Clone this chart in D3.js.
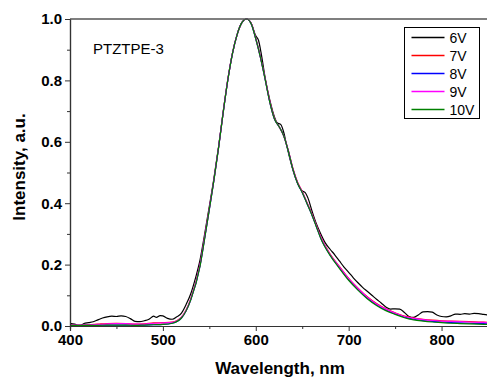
<!DOCTYPE html>
<html>
<head>
<meta charset="utf-8">
<script src="https://cdn.jsdelivr.net/npm/d3@7"></script>
<style>
  body { margin: 0; background: #fff; }
  svg { display: block; font-family: "Liberation Sans", Arial, sans-serif; }
</style>
</head>
<body>
<div id="chart"></div>
<script>
// smooth spectra share one wavelength grid
const wavelength = [400, 410, 420, 430, 440, 450, 460, 470, 480, 490, 500, 510, 520, 530, 540, 545, 550, 555, 560, 565, 570, 575, 580, 585, 590, 595, 600, 605, 610, 615, 620, 625, 630, 635, 640, 645, 650, 655, 660, 665, 670, 680, 690, 700, 710, 720, 730, 740, 750, 760, 770, 780, 790, 800, 810, 820, 830, 840, 850];
const v7  = [0.004, 0.003, 0.004, 0.006, 0.008, 0.009, 0.008, 0.006, 0.007, 0.01, 0.011, 0.013, 0.029, 0.088, 0.2, 0.29, 0.383, 0.478, 0.583, 0.698, 0.804, 0.89, 0.95, 0.988, 1.0, 0.986, 0.937, 0.877, 0.807, 0.733, 0.677, 0.65, 0.62, 0.572, 0.513, 0.468, 0.438, 0.403, 0.368, 0.329, 0.29, 0.234, 0.194, 0.155, 0.123, 0.095, 0.073, 0.056, 0.043, 0.032, 0.026, 0.022, 0.019, 0.017, 0.016, 0.015, 0.014, 0.013, 0.012];
const v8  = [0.002, 0.002, 0.002, 0.003, 0.003, 0.003, 0.003, 0.002, 0.003, 0.004, 0.005, 0.009, 0.026, 0.085, 0.196, 0.286, 0.38, 0.476, 0.582, 0.697, 0.803, 0.889, 0.95, 0.988, 1.0, 0.985, 0.935, 0.875, 0.805, 0.73, 0.675, 0.65, 0.62, 0.57, 0.51, 0.465, 0.435, 0.4, 0.365, 0.326, 0.286, 0.231, 0.19, 0.151, 0.119, 0.091, 0.069, 0.052, 0.04, 0.029, 0.022, 0.018, 0.015, 0.013, 0.011, 0.01, 0.009, 0.008, 0.007];
const v9  = [0.003, 0.003, 0.003, 0.005, 0.007, 0.008, 0.008, 0.006, 0.006, 0.009, 0.01, 0.012, 0.028, 0.087, 0.199, 0.289, 0.382, 0.477, 0.583, 0.698, 0.804, 0.89, 0.95, 0.988, 1.0, 0.986, 0.936, 0.876, 0.806, 0.732, 0.676, 0.65, 0.62, 0.571, 0.512, 0.467, 0.437, 0.402, 0.367, 0.328, 0.289, 0.233, 0.193, 0.154, 0.122, 0.094, 0.072, 0.055, 0.042, 0.031, 0.025, 0.021, 0.018, 0.016, 0.015, 0.014, 0.013, 0.012, 0.011];
const v10 = [0.002, 0.002, 0.002, 0.002, 0.003, 0.003, 0.003, 0.002, 0.003, 0.004, 0.005, 0.009, 0.026, 0.085, 0.195, 0.285, 0.38, 0.476, 0.582, 0.697, 0.803, 0.889, 0.95, 0.988, 1.0, 0.985, 0.935, 0.875, 0.805, 0.73, 0.675, 0.65, 0.62, 0.57, 0.51, 0.465, 0.435, 0.4, 0.365, 0.325, 0.285, 0.23, 0.188, 0.149, 0.117, 0.089, 0.067, 0.05, 0.038, 0.027, 0.02, 0.016, 0.013, 0.011, 0.009, 0.008, 0.007, 0.006, 0.005];

// 6V is noisier, own grid
const wavelength6 = [400, 405, 410, 415, 420, 425, 430, 435, 440, 445, 450, 455, 460, 465, 470, 475, 480, 485, 490, 493, 497, 500, 505, 510, 515, 520, 525, 530, 535, 540, 545, 550, 555, 560, 565, 570, 575, 580, 585, 590, 595, 600, 603, 606, 610, 615, 620, 623, 627, 630, 633, 638, 643, 647, 650, 653, 657, 660, 665, 670, 675, 680, 685, 690, 695, 700, 705, 710, 715, 720, 725, 730, 735, 740, 745, 750, 755, 760, 765, 770, 775, 780, 785, 790, 795, 800, 805, 810, 815, 820, 825, 830, 835, 840, 845, 850];
const v6 = [0.009, 0.006, 0.0, 0.008, 0.011, 0.014, 0.02, 0.026, 0.03, 0.032, 0.031, 0.033, 0.031, 0.024, 0.015, 0.014, 0.017, 0.022, 0.032, 0.028, 0.034, 0.033, 0.025, 0.022, 0.03, 0.042, 0.07, 0.105, 0.155, 0.215, 0.3, 0.39, 0.482, 0.585, 0.7, 0.805, 0.89, 0.95, 0.988, 1.0, 0.986, 0.945, 0.93, 0.885, 0.81, 0.737, 0.682, 0.662, 0.656, 0.632, 0.592, 0.53, 0.48, 0.452, 0.44, 0.435, 0.41, 0.38, 0.335, 0.3, 0.27, 0.25, 0.232, 0.212, 0.192, 0.175, 0.157, 0.141, 0.126, 0.113, 0.1, 0.087, 0.075, 0.062, 0.055, 0.056, 0.055, 0.044, 0.031, 0.028, 0.036, 0.046, 0.047, 0.045, 0.036, 0.031, 0.03, 0.033, 0.039, 0.038, 0.04, 0.039, 0.041, 0.04, 0.038, 0.036];

const seriesNames = ["6V", "7V", "8V", "9V", "10V"];
const seriesColors = ["#000000", "#ff0000", "#0000ff", "#ff00ff", "#008000"];
const xTicks = [400, 500, 600, 700, 800];
const yTicks = [0.0, 0.2, 0.4, 0.6, 0.8, 1.0];

const series = [
  { name: "6V", x: wavelength6, y: v6 },
  { name: "7V", x: wavelength, y: v7 },
  { name: "8V", x: wavelength, y: v8 },
  { name: "9V", x: wavelength, y: v9 },
  { name: "10V", x: wavelength, y: v10 }
];

const W = 487, H = 381;
const margin = { top: 19, right: 0, bottom: 55, left: 70 };
const width = 418;
const height = H - margin.top - margin.bottom;

const svg = d3.select("#chart").append("svg")
  .attr("width", W)
  .attr("height", H);

const g = svg.append("g")
  .attr("transform", "translate(" + margin.left + "," + margin.top + ")");

const xScale = d3.scaleLinear().domain([400, 850]).range([0, width]);
const yScale = d3.scaleLinear().domain([0, 1]).range([height, 0]);
const color = d3.scaleOrdinal().domain(seriesNames).range(seriesColors);

// clip so nothing spills past the frame
g.append("clipPath").attr("id", "clip")
  .append("rect").attr("width", width).attr("height", height + 1).attr("y", -1);

const lineGen = d3.line()
  .x(d => xScale(d[0]))
  .y(d => yScale(d[1]))
  .curve(d3.curveMonotoneX);

g.append("g").attr("clip-path", "url(#clip)")
  .selectAll("path")
  .data(series)
  .enter()
  .append("path")
  .attr("d", s => lineGen(s.x.map((w, i) => [w, s.y[i]])))
  .attr("fill", "none")
  .style("stroke", s => color(s.name))
  .style("stroke-width", 1.2);

// axes
const xAxis = d3.axisBottom(xScale).tickValues(xTicks).tickSize(5).tickPadding(3).tickFormat(d3.format("d"));
const xMinor = d3.axisBottom(xScale).tickValues([450, 550, 650, 750, 850]).tickSize(3).tickFormat("");
const yAxis = d3.axisLeft(yScale).tickValues(yTicks).tickSize(5).tickPadding(3).tickFormat(d3.format(".1f"));
const yMinor = d3.axisLeft(yScale).tickValues([0.1, 0.3, 0.5, 0.7, 0.9]).tickSize(3).tickFormat("");

function styleAxis(sel) {
  sel.select(".domain").attr("stroke", "#333").attr("stroke-width", 1.2);
  sel.selectAll(".tick line").attr("stroke", "#333");
  sel.selectAll("text")
    .attr("fill", "#000")
    .style("font-size", "15px")
    .style("font-weight", "bold")
    .style("font-family", "'Liberation Sans', Arial, sans-serif");
}

g.append("g").attr("transform", "translate(0," + height + ")").call(xMinor).call(styleAxis);
g.append("g").attr("transform", "translate(0," + height + ")").call(xAxis).call(styleAxis);
g.append("g").call(yMinor).call(styleAxis);
g.append("g").call(yAxis).call(styleAxis);

// top frame line
g.append("line")
  .attr("x1", 0).attr("x2", width)
  .attr("y1", 0).attr("y2", 0)
  .attr("stroke", "#555")
  .attr("stroke-width", 1.5);

// labels
svg.append("text")
  .attr("x", 280).attr("y", 374)
  .attr("text-anchor", "middle")
  .style("font-size", "17px")
  .style("font-weight", "bold")
  .text("Wavelength, nm");

svg.append("text")
  .attr("transform", "translate(25,167) rotate(-90)")
  .attr("text-anchor", "middle")
  .style("font-size", "17px")
  .style("font-weight", "bold")
  .text("Intensity, a.u.");

svg.append("text")
  .attr("x", 93).attr("y", 54)
  .style("font-size", "15px")
  .text("PTZTPE-3");

// legend
const legend = svg.append("g").attr("transform", "translate(404.5,27.5)");
legend.append("rect")
  .attr("width", 75).attr("height", 91)
  .attr("fill", "#fff")
  .attr("stroke", "#000")
  .attr("stroke-width", 1);

const items = legend.selectAll(".item")
  .data(seriesNames)
  .enter()
  .append("g")
  .attr("class", "item")
  .attr("transform", (d, i) => "translate(0," + (10 + i * 18) + ")");

items.append("line")
  .attr("x1", 7).attr("x2", 40)
  .attr("y1", 0).attr("y2", 0)
  .style("stroke", (d, i) => seriesColors[i])
  .style("stroke-width", 1.5);

items.append("text")
  .attr("x", 45).attr("y", 5)
  .style("font-size", "14px")
  .text(d => d);
</script>
</body>
</html>
